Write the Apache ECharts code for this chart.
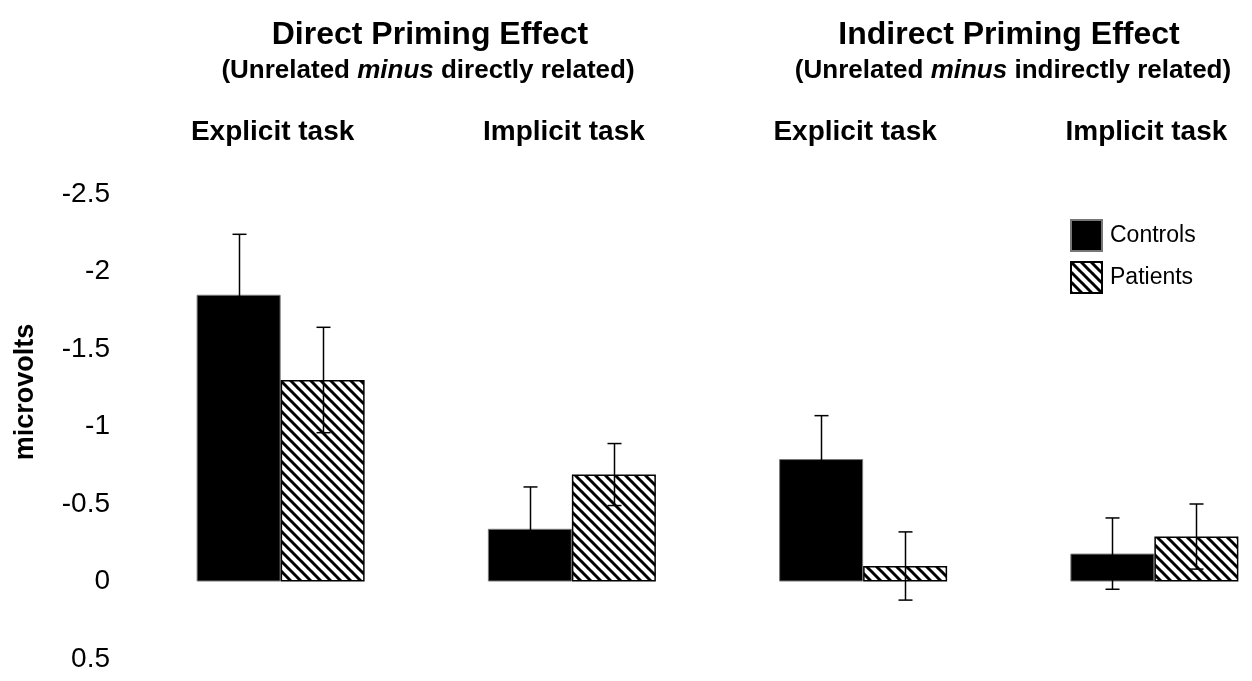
<!DOCTYPE html>
<html>
<head>
<meta charset="utf-8">
<title>Priming effects</title>
<script src="https://cdn.jsdelivr.net/npm/echarts@6/dist/echarts.min.js"></script>
<style>
  html, body { margin: 0; padding: 0; background: #fff; }
  #main { width: 1252px; height: 681px; }
</style>
</head>
<body>
<div id="main"></div>
<script>
// tasks along the x axis (two per priming effect)
var tasks = ['Explicit task', 'Implicit task', 'Explicit task', 'Implicit task'];
var yTicks = ['-2.5', '-2', '-1.5', '-1', '-0.5', '0', '0.5'];

// mean effect in microvolts (negative = bar goes up, axis is inverted)
var controls = [-1.85, -0.34, -0.79, -0.18];
var patients = [-1.30, -0.69, -0.10, -0.29];
// error bar half-length
var controlsErr = [0.39, 0.27, 0.28, 0.23];
var patientsErr = [0.34, 0.20, 0.22, 0.21];

var FONT = '"Liberation Sans", Arial, sans-serif';
var BAR_W = 84;

// hatch pattern for patients
function hatch() {
    var c = document.createElement('canvas');
    c.width = 10;
    c.height = 10;
    var ctx = c.getContext('2d');
    ctx.fillStyle = '#fff';
    ctx.fillRect(0, 0, 10, 10);
    ctx.strokeStyle = '#000';
    ctx.lineWidth = 3;
    [-10, 0, 10].forEach(function (k) {
        ctx.beginPath();
        ctx.moveTo(k - 1, -1);
        ctx.lineTo(k + 11, 11);
        ctx.stroke();
    });
    return c;
}

function errData(vals, errs) {
    return vals.map(function (v, i) { return [i, v, errs[i]]; });
}

function errorBars(offset) {
    return function (params, api) {
        var i = api.value(0);
        var x = Math.round(api.coord([i, 0])[0] + offset) + 0.5;
        var top = api.coord([i, api.value(1) - api.value(2)])[1];
        var bot = api.coord([i, api.value(1) + api.value(2)])[1];
        var st = { stroke: '#000', lineWidth: 1.5 };
        return {
            type: 'group',
            children: [
                { type: 'line', shape: { x1: x, y1: top, x2: x, y2: bot }, style: st },
                { type: 'line', shape: { x1: x - 7, y1: top, x2: x + 7, y2: top }, style: st },
                { type: 'line', shape: { x1: x - 7, y1: bot, x2: x + 7, y2: bot }, style: st }
            ]
        };
    };
}

var myChart = echarts.init(document.getElementById('main'));

var subRich = {
    b: { fontFamily: FONT, fontWeight: 'bold', fontSize: 26, fill: '#000' },
    i: { fontFamily: FONT, fontWeight: 'bold', fontStyle: 'italic', fontSize: 26, fill: '#000' }
};

var option = {
    backgroundColor: '#fff',
    animation: false,
    graphic: [
        { type: 'text', x: 430, y: 35, style: { text: 'Direct Priming Effect', font: 'bold 32px ' + FONT, fill: '#000', align: 'center', verticalAlign: 'middle' } },
        { type: 'text', x: 428, y: 71, style: { text: '{b|(Unrelated }{i|minus}{b| directly related)}', align: 'center', verticalAlign: 'middle', rich: subRich } },
        { type: 'text', x: 1009, y: 35, style: { text: 'Indirect Priming Effect', font: 'bold 32px ' + FONT, fill: '#000', align: 'center', verticalAlign: 'middle' } },
        { type: 'text', x: 1013, y: 71, style: { text: '{b|(Unrelated }{i|minus}{b| indirectly related)}', align: 'center', verticalAlign: 'middle', rich: subRich } },
        { type: 'text', x: 26, y: 392, rotation: Math.PI / 2, style: { text: 'microvolts', font: 'bold 27px ' + FONT, fill: '#000', align: 'center', verticalAlign: 'middle' } }
    ],
    legend: {
        orient: 'vertical',
        left: 1065,
        top: 214,
        icon: 'rect',
        itemWidth: 31,
        itemHeight: 31,
        itemGap: 9,
        textStyle: { fontFamily: FONT, fontSize: 23, color: '#000', padding: [0, 0, 0, 3] },
        data: ['Controls', 'Patients']
    },
    grid: { left: 135, top: 194, right: -48, bottom: 22, outerBoundsMode: 'none' },
    xAxis: {
        type: 'category',
        position: 'top',
        data: tasks,
        axisLine: { show: false },
        axisTick: { show: false },
        axisLabel: { margin: 48, padding: [0, 16, 0, 0], fontFamily: FONT, fontWeight: 'bold', fontSize: 28, color: '#000' }
    },
    yAxis: {
        type: 'value',
        inverse: true,
        min: -2.5,
        max: 0.5,
        interval: 0.5,
        axisLine: { show: false },
        axisTick: { show: false },
        splitLine: { show: false },
        axisLabel: {
            margin: 25,
            fontFamily: FONT,
            fontSize: 28,
            color: '#000',
            formatter: function (v) {
                var idx = Math.round((v + 2.5) / 0.5);
                return yTicks[idx];
            }
        }
    },
    series: [
        {
            name: 'Controls',
            type: 'bar',
            barWidth: BAR_W,
            barGap: '0%',
            data: controls,
            itemStyle: { color: '#000', borderColor: '#777', borderWidth: 1 }
        },
        {
            name: 'Patients',
            type: 'bar',
            barWidth: BAR_W,
            data: patients,
            itemStyle: { color: { image: hatch(), repeat: 'repeat' }, borderColor: '#000', borderWidth: 1.5 }
        },
        {
            type: 'custom',
            z: 5,
            silent: true,
            renderItem: errorBars(-BAR_W / 2),
            data: errData(controls, controlsErr)
        },
        {
            type: 'custom',
            z: 5,
            silent: true,
            renderItem: errorBars(BAR_W / 2),
            data: errData(patients, patientsErr)
        }
    ]
};

myChart.setOption(option);
</script>
</body>
</html>
